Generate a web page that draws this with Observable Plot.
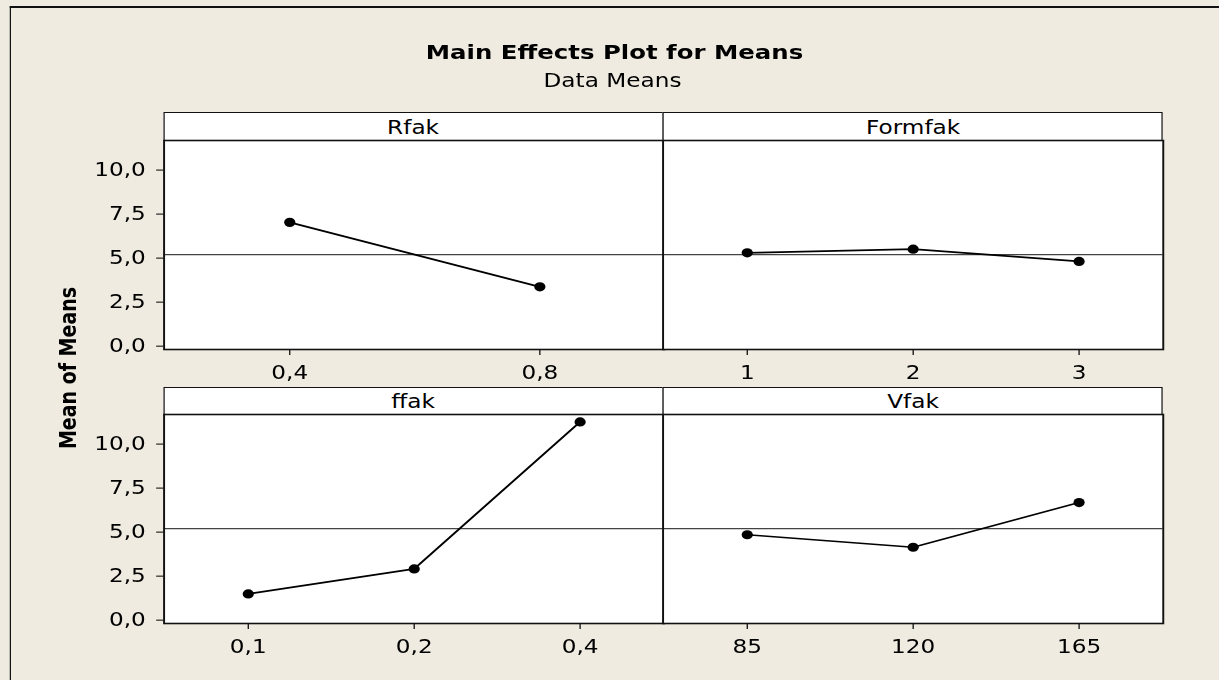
<!DOCTYPE html>
<html>
<head>
<meta charset="utf-8">
<script src="https://cdn.jsdelivr.net/npm/d3@7"></script>
<script src="https://cdn.jsdelivr.net/npm/@observablehq/plot@0.6"></script>
<style>
  html, body { margin: 0; padding: 0; background: #EFEBE1; overflow: hidden; }
  #stage { position: absolute; left: 0; top: 0; height: 680px; transform-origin: 0 0;
           font-family: "DejaVu Sans", Verdana, sans-serif; color: #000; }
  .abs { position: absolute; }
  .strip { position: absolute; box-sizing: border-box; background: #fff; border: 1.6px solid #111;
           display: flex; align-items: center; justify-content: center; font-size: 19px; }
</style>
</head>
<body>
<div id="stage"></div>
<script>
// ---------------- data ----------------
const factors = ["Rfak", "Formfak", "ffak", "Vfak"];
const rfakLevels = ["0,4", "0,8"];
const rfakMeans = [7.03, 3.37];
const formfakLevels = ["1", "2", "3"];
const formfakMeans = [5.30, 5.51, 4.81];
const ffakLevels = ["0,1", "0,2", "0,4"];
const ffakMeans = [1.49, 2.91, 11.26];
const vfakLevels = ["85", "120", "165"];
const vfakMeans = [4.85, 4.14, 6.68];
const grandMean = 5.2;
const yTicks = [0, 2.5, 5, 7.5, 10];
const title = "Main Effects Plot for Means";
const subtitle = "Data Means";
const yLabel = "Mean of Means";

const levelsList = [rfakLevels, formfakLevels, ffakLevels, vfakLevels];
const meansList = [rfakMeans, formfakMeans, ffakMeans, vfakMeans];

// ---------------- layout ----------------
const S = 1.22;              // horizontal stretch of the reference
const W = 1219 / S;
const stage = document.getElementById("stage");
stage.style.width = W + "px";
stage.style.transform = `scaleX(${S})`;

const X = v => v / S;        // convert reference x to stage x

// outer frame
const frame = document.createElement("div");
frame.className = "abs";
Object.assign(frame.style, {left: X(9.5) + "px", top: "5.5px", width: (W + 20) + "px", height: "700px",
  borderLeft: "1.8px solid #111", borderTop: "2px solid #111"});
stage.appendChild(frame);

// title & subtitle
const t = document.createElement("div");
t.className = "abs"; t.textContent = title;
Object.assign(t.style, {left: (X(614.5) - 300) + "px", width: "600px", textAlign: "center", top: "42px",
  fontSize: "20px", lineHeight: "20px", fontWeight: "bold"});
stage.appendChild(t);
const st = document.createElement("div");
st.className = "abs"; st.textContent = subtitle;
Object.assign(st.style, {left: (X(612.5) - 300) + "px", width: "600px", textAlign: "center", top: "71px",
  fontSize: "19px", lineHeight: "19px"});
stage.appendChild(st);

// y label
const yl = document.createElement("div");
yl.className = "abs"; yl.textContent = yLabel;
Object.assign(yl.style, {left: (X(67) - 100) + "px", top: (368 - 10) + "px", width: "200px", height: "20px",
  lineHeight: "20px", textAlign: "center", fontSize: "19px", fontWeight: "bold", transform: "rotate(-90deg)"});
stage.appendChild(yl);

const cols = [X(163), X(663)];
const panelW = 410;
const rows = [{stripTop: 112, panelTop: 140, panelH: 209}, {stripTop: 387, panelTop: 414.3, panelH: 209}];
const fmt = d => d.toFixed(1).replace(".", ",");

factors.forEach((name, i) => {
  const r = rows[Math.floor(i / 2)], c = i % 2;
  const left = cols[c];
  const withY = c === 0;
  const mL = withY ? 64 : 2, mR = 2, mT = 2, mB = 42;
  const data = levelsList[i].map((lv, k) => ({level: lv, mean: meansList[i][k]}));

  const strip = document.createElement("div");
  strip.className = "strip"; strip.textContent = name;
  Object.assign(strip.style, {left: left + "px", top: r.stripTop + "px", width: panelW + "px",
    height: (r.panelTop - r.stripTop + 1) + "px"});
  stage.appendChild(strip);

  const chart = Plot.plot({
    width: mL + panelW + mR,
    height: mT + r.panelH + mB,
    marginLeft: mL, marginRight: mR, marginTop: mT, marginBottom: mB,
    style: {fontFamily: "DejaVu Sans, Verdana, sans-serif", fontSize: "19px", background: "transparent",
            color: "#000", overflow: "visible"},
    x: {type: "point", domain: levelsList[i], padding: 0.5, tickSize: 6, tickPadding: 10, label: null},
    y: {domain: [-0.19, 11.68], ticks: yTicks, tickFormat: fmt, tickSize: 6, tickPadding: 9, label: null,
        axis: withY ? "left" : null},
    marks: [
      Plot.frame({fill: "white"}),
      Plot.ruleY([grandMean], {stroke: "#444", strokeWidth: 1.4}),
      Plot.line(data, {x: "level", y: "mean", stroke: "#000", strokeWidth: 1.7}),
      Plot.dot(data, {x: "level", y: "mean", r: 4.6, fill: "#000", stroke: "none"}),
      Plot.frame({stroke: "#111", strokeWidth: 1.6})
    ]
  });
  chart.style.position = "absolute";
  chart.style.left = (left - mL) + "px";
  chart.style.top = (r.panelTop - mT) + "px";
  stage.appendChild(chart);
});
</script>
</body>
</html>
